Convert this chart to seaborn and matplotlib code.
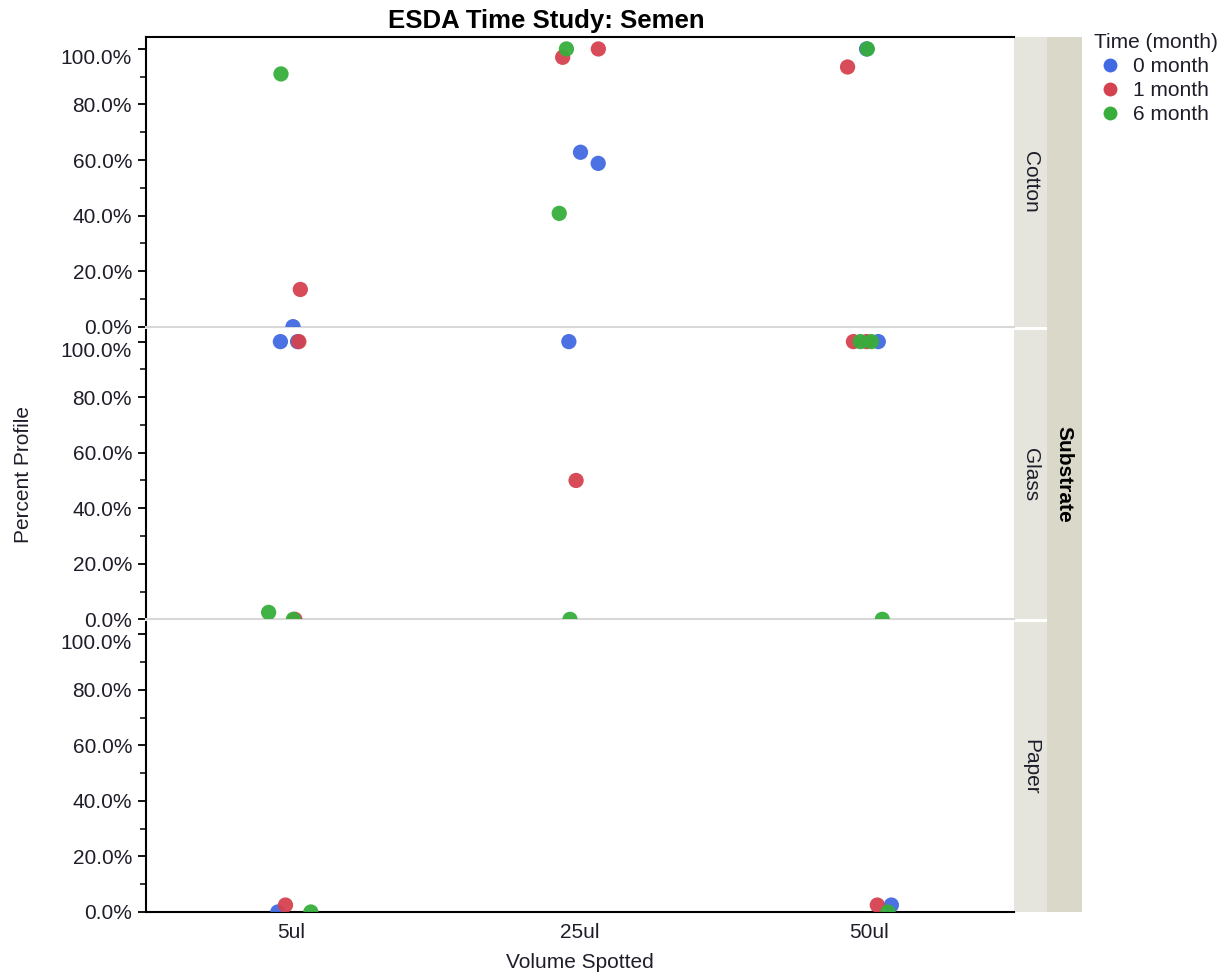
import numpy as np
import pandas as pd
import matplotlib
matplotlib.use("Agg")
import matplotlib.pyplot as plt
import seaborn as sns
from matplotlib.patches import Rectangle
from matplotlib.lines import Line2D
from matplotlib.ticker import MultipleLocator, PercentFormatter

# data (fraction of full profile)
substrate = (["Cotton"] * 12) + (["Glass"] * 15) + (["Paper"] * 6)
volume = ["5ul", "5ul", "5ul", "25ul", "25ul", "25ul", "25ul", "25ul", "25ul", "50ul", "50ul", "50ul",
          "5ul", "5ul", "5ul", "5ul", "5ul", "5ul", "25ul", "25ul", "25ul", "50ul", "50ul", "50ul", "50ul", "50ul",
          "50ul",
          "5ul", "5ul", "5ul", "50ul", "50ul", "50ul"]
time = ["0 month", "1 month", "6 month", "0 month", "0 month", "1 month", "1 month", "6 month", "6 month",
        "0 month", "1 month", "6 month",
        "0 month", "0 month", "1 month", "1 month", "6 month", "6 month", "0 month", "1 month", "6 month",
        "0 month", "1 month", "1 month", "6 month", "6 month", "6 month",
        "0 month", "1 month", "6 month", "0 month", "1 month", "6 month"]
profile = [0.0, 0.134, 0.91, 0.628, 0.588, 1.0, 0.97, 1.0, 0.408, 1.0, 0.935, 1.0,
           1.0, 1.0, 1.0, 0.0, 0.025, 0.0, 1.0, 0.5, 0.0, 1.0, 1.0, 1.0, 1.0, 0.0, 1.0,
           0.0, 0.025, 0.0, 0.025, 0.025, 0.0]

substrates = ["Cotton", "Glass", "Paper"]
volumes = ["5ul", "25ul", "50ul"]
times = ["0 month", "1 month", "6 month"]
colors = ["#4169E1", "#D5424F", "#37AE3C"]
yticks = [0.0, 0.2, 0.4, 0.6, 0.8, 1.0]

df = pd.DataFrame({"Substrate": substrate, "Volume": volume, "Time": time, "Profile": profile})

plt.rcParams["font.family"] = ["Liberation Sans", "DejaVu Sans"]
text_col = "#1E1E2A"
fs = 15

fig = plt.figure(figsize=(12.32, 9.77), dpi=100)
left, right = 146 / 1232, 1014 / 1232
top, bottom = 1 - 37 / 977, 1 - 912 / 977
gap = 3 / 977
ph = (top - bottom - 2 * gap) / 3

np.random.seed(3)
axes = []
for i, s in enumerate(substrates):
    y0 = top - (i + 1) * ph - i * gap
    ax = fig.add_axes([left, y0, right - left, ph])
    axes.append(ax)
    sub = df[df["Substrate"] == s]
    sns.stripplot(data=sub, x="Volume", y="Profile", hue="Time", order=volumes, hue_order=times,
                  palette=colors, jitter=0.08, size=11, linewidth=0, alpha=0.95, ax=ax, legend=False)
    ax.set_xlim(-0.5, 2.5)
    ax.set_ylim(0, 1.043)
    ax.set_yticks(yticks)
    ax.yaxis.set_minor_locator(MultipleLocator(0.1))
    ax.yaxis.set_major_formatter(PercentFormatter(1.0, decimals=1))
    ax.tick_params(axis="y", which="major", length=6, width=1.3, labelsize=fs, labelcolor=text_col, pad=4)
    ax.tick_params(axis="y", which="minor", length=4, width=1.1)
    ax.tick_params(axis="x", length=0, labelsize=fs, labelcolor=text_col, pad=8)
    # top label hangs below its tick so it stays inside the panel
    ax.get_yticklabels()[-1].set_verticalalignment("top")
    ax.set_xlabel("")
    ax.set_ylabel("")
    ax.spines["right"].set_visible(False)
    ax.spines["left"].set_linewidth(1.5)
    ax.spines["top"].set_visible(i == 0)
    ax.spines["top"].set_linewidth(1.5)
    if i < 2:
        ax.spines["bottom"].set_color("#D8D8D8")
        ax.spines["bottom"].set_linewidth(1.5)
        ax.set_xticklabels([])
    else:
        ax.spines["bottom"].set_linewidth(1.5)
    # inner strip with substrate name
    ax.add_patch(Rectangle((1.0, 0), 33 / 868, 1, transform=ax.transAxes, clip_on=False,
                           facecolor="#E6E5DD", edgecolor="none"))
    ax.text(1.0 + 16.5 / 868, 0.5, s, transform=ax.transAxes, rotation=-90, ha="center", va="center",
            fontsize=fs, color=text_col)

# outer strip
fig.patches.append(Rectangle((1047 / 1232, bottom), 35 / 1232, top - bottom, transform=fig.transFigure,
                             facecolor="#DAD8C8", edgecolor="none"))
fig.text(1064 / 1232, 0.5 * (top + bottom), "Substrate", rotation=-90, ha="center", va="center",
         fontsize=fs, fontweight="bold", color="black")

fig.text(546 / 1232, 1 - 21 / 977, "ESDA Time Study: Semen", ha="center", va="center",
         fontsize=18.5, fontweight="bold", color="black")
fig.text(24 / 1232, 0.5 * (top + bottom), "Percent Profile", rotation=90, ha="center", va="center",
         fontsize=fs, color=text_col)
fig.text(580 / 1232, 1 - 963 / 977, "Volume Spotted", ha="center", va="center",
         fontsize=fs, color=text_col)

handles = [Line2D([], [], marker="o", linestyle="none", markersize=10, markerfacecolor=c,
                  markeredgewidth=0) for c in colors]
leg = fig.legend(handles, times, title="Time (month)", loc="upper left",
                 bbox_to_anchor=(1075 / 1232, 1 - 14 / 977), frameon=False, fontsize=fs,
                 title_fontsize=fs, handletextpad=0.3, handlelength=1.6, labelspacing=0.25,
                 alignment="left")
leg.get_title().set_color(text_col)
for t in leg.get_texts():
    t.set_color(text_col)

fig.savefig("out.png", dpi=100)
